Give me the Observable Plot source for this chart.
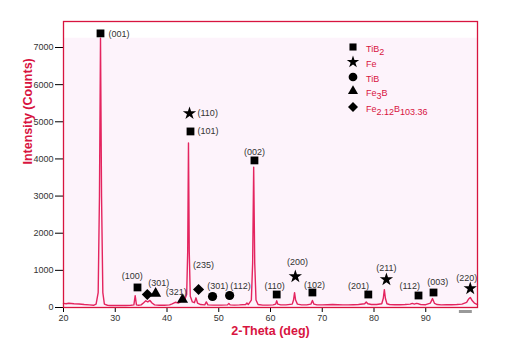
<!DOCTYPE html>
<html>
<head>
<meta charset="utf-8">
<script src="https://cdn.jsdelivr.net/npm/d3@7"></script>
<script src="https://cdn.jsdelivr.net/npm/@observablehq/plot@0.6"></script>
<style>
  html, body { margin: 0; padding: 0; background: #fff; }
  #chart { position: relative; width: 525px; height: 358px; font-family: "Liberation Sans", Arial, sans-serif; }
</style>
</head>
<body>
<div id="chart"></div>
<script>
// ---- Data ----
const xTicks = [20, 30, 40, 50, 60, 70, 80, 90];
const yTicks = [0, 1000, 2000, 3000, 4000, 5000, 6000, 7000];

// XRD pattern: [2-theta (deg), intensity (counts)]
const spectrum = [
  [20,110],[20.5,100],[21,115],[22,100],[23,95],[24,80],[25,70],[25.8,60],[26.3,90],[26.7,400],
  [26.95,3000],[27.15,7250],[27.35,3000],[27.6,400],[27.9,90],[28.5,60],[29,55],[30,55],[31,55],[32,55],
  [33,60],[33.6,70],[33.85,320],[34.1,70],[34.5,60],[35,70],[35.5,130],[35.9,180],[36.3,150],[36.7,190],
  [37.1,120],[37.6,70],[38.5,60],[39.5,60],[40.5,70],[41,100],[41.6,140],[42.2,120],[42.8,170],[43.4,200],
  [43.8,350],[44.0,1500],[44.15,4430],[44.3,1500],[44.5,300],[44.9,150],[45.3,130],[45.6,260],[45.9,120],[46.5,80],
  [47.3,70],[47.6,150],[47.9,70],[49,65],[50.5,65],[51.7,70],[51.95,110],[52.2,70],[53,65],[54,70],
  [55.2,80],[55.45,120],[55.7,80],[56.3,200],[56.55,1200],[56.75,3780],[56.95,1200],[57.2,200],[57.6,80],[58.5,65],
  [59.5,65],[60.5,70],[61.0,90],[61.2,180],[61.4,90],[62,70],[63,70],[64.2,90],[64.45,200],[64.65,400],
  [64.85,200],[65.2,90],[66,70],[67,70],[67.8,90],[68.1,190],[68.4,90],[69,70],[70,70],[71,75],
  [72,80],[73,75],[74,70],[75,70],[76,75],[77,80],[78.2,100],[78.5,150],[78.8,100],[79.5,80],
  [80.5,80],[81.5,100],[81.8,250],[82.0,480],[82.2,250],[82.5,100],[83,80],[84,75],[85,75],[86,80],
  [87,90],[87.4,110],[87.8,90],[88.2,110],[88.6,100],[89,80],[90,75],[90.9,120],[91.3,240],[91.7,110],
  [92.2,80],[93,70],[94,75],[95,75],[96,80],[97,90],[97.9,140],[98.3,230],[98.6,270],[99,180],
  [99.4,120],[100,80]
].map(([x, y]) => ({x, y}));

// Phases (legend order) and their marker symbols
const phases = ["TiB2", "Fe", "TiB", "Fe3B", "Fe2.12B103.36"];
const phaseSymbols = ["square", "star", "circle", "triangle", "diamond2"];

// Peak markers: phase, marker x, marker y
const markerPhase = ["TiB2","Fe","TiB2","TiB2","TiB2","Fe2.12B103.36","Fe3B","Fe3B","Fe2.12B103.36","TiB","TiB","TiB2","Fe","TiB2","TiB2","Fe","TiB2","TiB2","Fe"];
const markerX     = [27.15, 44.35, 44.54, 56.9, 34.3, 36.2, 37.8, 43.0, 46.1, 48.8, 52.1, 61.2, 64.8, 68.1, 78.9, 82.4, 88.6, 91.5, 98.6];
const markerY     = [7380, 5225, 4740, 3960, 540, 350, 377, 215, 485, 296, 323, 350, 835, 404, 350, 754, 323, 404, 512];

// Miller-index labels: text, x, y, anchored at start (true) or centre (false)
const labelText  = ["(001)","(110)","(101)","(002)","(100)","(301)","(321)","(235)","(301)","(112)","(110)","(200)","(102)","(201)","(211)","(112)","(003)","(220)"];
const labelX     = [28.7, 45.9, 45.9, 56.9, 33.3, 38.4, 41.8, 47.05, 49.8, 54.2, 60.8, 65.2, 68.5, 77.0, 82.4, 86.9, 92.3, 97.9];
const labelY     = [7350, 5225, 4740, 4175, 835, 646, 404, 1131, 566, 566, 566, 1212, 592, 566, 1050, 566, 673, 781];
const labelStart = [true, true, true, false, false, false, false, false, false, false, false, false, false, false, false, false, false, false];

// Small grey scale bar under the axis (x range, deg)
const scaleBar = [96.5, 99];

// ---- Build tables ----
const markers = markerPhase.map((p, i) => ({phase: p, x: markerX[i], y: markerY[i]}));
const labels = labelText.map((t, i) => ({t, x: labelX[i], y: labelY[i], start: labelStart[i]}));
const bg = [{x1: d3.min(spectrum, d => d.x), x2: d3.max(spectrum, d => d.x), y: d3.max(spectrum, d => d.y)}];

const RED = "#d8143f";
const LINE = "#e4245f";
const symbolR = {square: 4.4, star: 4.2, circle: 4.6, triangle: 4.1, diamond2: 5};

const dotMarks = phases.map((p, i) => Plot.dot(markers.filter(m => m.phase === p), {
  x: "x", y: "y", symbol: phaseSymbols[i], r: symbolR[phaseSymbols[i]], fill: "#000", stroke: "none"
}));

const chart = Plot.plot({
  width: 525,
  height: 358,
  marginLeft: 63,
  marginRight: 48,
  marginTop: 21,
  marginBottom: 51,
  style: {fontFamily: "'Liberation Sans', Arial, sans-serif", fontSize: "9px", background: "#fff"},
  x: {domain: [20, 100]},
  y: {domain: [0, 7700]},
  marks: [
    Plot.rectY(bg, {x1: "x1", x2: "x2", y1: 0, y2: "y", fill: "#fdf3fb"}),
    Plot.line(spectrum, {x: "x", y: "y", stroke: LINE, strokeWidth: 1.4}),
    ...dotMarks,
    Plot.text(labels.filter(d => d.start), {x: "x", y: "y", text: "t", textAnchor: "start", fill: "#333", fontSize: 9}),
    Plot.text(labels.filter(d => !d.start), {x: "x", y: "y", text: "t", textAnchor: "middle", fill: "#333", fontSize: 9}),
    Plot.ruleY([0], {x1: scaleBar[0], x2: scaleBar[1], dy: 4, stroke: "#999", strokeWidth: 3}),
    Plot.axisY({ticks: yTicks, tickFormat: d3.format("d"), tickSize: 8, tickPadding: 2, label: null, stroke: "#000", fill: "#333", fontSize: 9}),
    Plot.axisX({ticks: xTicks, tickFormat: d3.format("d"), tickSize: 5, tickPadding: 2, label: null, stroke: "#000", fill: "#333", fontSize: 9}),
    Plot.frame({stroke: RED, strokeWidth: 1.3}),
    Plot.text(["Intensity (Counts)"], {frameAnchor: "left", dx: -36, rotate: -90, fill: RED, fontWeight: "bold", fontSize: 12.5}),
    Plot.text(["2-Theta (deg)"], {frameAnchor: "bottom", dy: 27, fill: RED, fontWeight: "bold", fontSize: 12.5})
  ]
});

document.getElementById("chart").appendChild(chart);

// ---- Legend (inside the plot, upper right) ----
const svg = d3.select(chart);
const legend = svg.append("g").attr("transform", "translate(353,47)")
  .style("font-family", "'Liberation Sans', Arial, sans-serif").style("font-size", "9px")
  .attr("text-anchor", "start");
const legendSym = {square: d3.symbolSquare, star: d3.symbolStar, circle: d3.symbolCircle, triangle: d3.symbolTriangle, diamond2: d3.symbolDiamond2};
const legendSize = {square: 50, star: 48, circle: 60, triangle: 44, diamond2: 64};
const rowY = [0, 15, 30, 44, 60];
const legendParts = [
  [["Ti", 0], ["B", 0], ["2", 1]],
  [["Fe", 0]],
  [["TiB", 0]],
  [["Fe", 0], ["3", 1], ["B", 0]],
  [["Fe", 0], ["2.12", 1], ["B", 0], ["103.36", 1]]
];
phases.forEach((p, i) => {
  const g = legend.append("g").attr("transform", `translate(0,${rowY[i]})`);
  g.append("path").attr("d", d3.symbol(legendSym[phaseSymbols[i]], legendSize[phaseSymbols[i]])()).attr("fill", "#000");
  const t = g.append("text").attr("x", 13).attr("y", 5).attr("fill", RED).attr("text-anchor", "start");
  let prev = 0;
  legendParts[i].forEach(([s, sub]) => {
    t.append("tspan").attr("dy", (sub - prev) * 3).text(s);
    prev = sub;
  });
});
</script>
</body>
</html>
